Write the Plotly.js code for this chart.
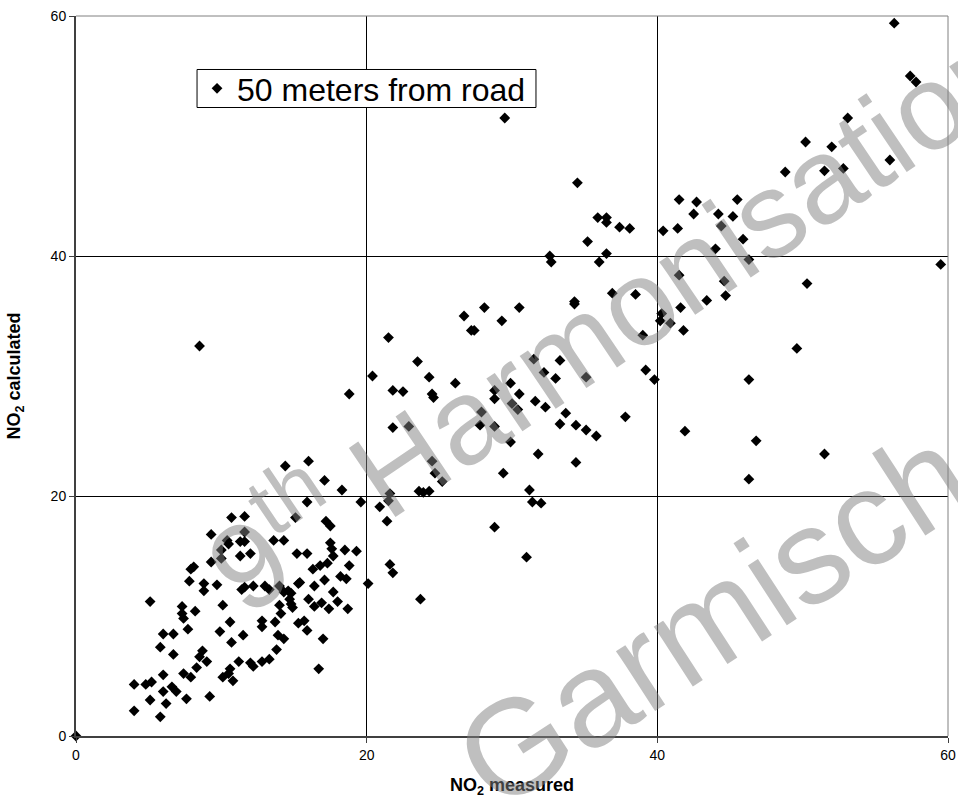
<!DOCTYPE html>
<html>
<head>
<meta charset="utf-8">
<script src="https://cdn.plot.ly/plotly-3.0.1.min.js"></script>
<style>
  html, body { margin: 0; padding: 0; background: #ffffff; }
  #chart { width: 958px; height: 798px; }
</style>
</head>
<body>
<div id="chart"></div>
<script>
// NO2 measured (x) and NO2 calculated (y), 50 meters from road
const no2Measured = [
  10.7, 11.6, 9.3, 11.6, 10.4, 11.3, 11.6, 10.0, 11.3, 12.0,
  10.0, 9.3, 8.1, 7.9, 7.8, 8.8, 9.7, 8.8, 11.4, 11.6,
  12.2, 5.1, 7.3, 8.2, 10.1, 7.3, 7.4, 7.7, 10.6, 9.9,
  6.0, 6.7, 11.5, 10.7, 5.8, 6.7, 8.7, 8.5, 9.0, 11.2,
  12.0, 12.2, 8.3, 10.6, 10.5, 6.0, 7.4, 7.9, 10.1, 10.8,
  4.0, 4.8, 5.2, 6.6, 6.9, 6.0, 5.1, 6.2, 7.6, 9.2,
  4.0, 5.8, 0.0, 10.5, 14.4, 16.0, 17.1, 18.3, 15.9, 19.6,
  15.1, 17.2, 17.5, 13.6, 14.3, 17.5, 17.6, 17.7, 15.2, 15.9,
  18.5, 19.3, 17.3, 16.8, 16.3, 18.8, 17.1, 18.2, 18.6, 20.1,
  13.0, 13.3, 14.0, 14.3, 14.6, 14.8, 15.3, 15.4, 16.4, 17.7,
  14.0, 14.1, 14.7, 14.8, 14.9, 16.0, 16.4, 16.9, 17.4, 18.0,
  18.7, 12.8, 12.8, 13.7, 15.3, 15.7, 15.9, 13.9, 14.3, 17.0,
  13.8, 13.3, 12.8, 16.7, 23.7, 8.5, 18.8, 20.4, 21.5, 21.8,
  22.5, 23.5, 24.3, 24.5, 24.6, 26.1, 26.7, 28.1, 30.5, 29.3,
  27.2, 27.4, 31.5, 32.2, 28.8, 28.8, 29.9, 30.5, 30.0, 30.4,
  31.6, 32.3, 27.9, 27.8, 28.8, 21.8, 22.9, 29.9, 31.8, 24.5,
  24.7, 25.2, 29.4, 20.9, 21.5, 21.6, 23.6, 23.9, 24.3, 31.2,
  31.4, 32.0, 21.4, 28.8, 31.0, 21.6, 21.8, 29.5, 34.5, 35.9,
  36.5, 36.5, 37.4, 38.1, 35.2, 32.6, 32.7, 36.5, 36.0, 36.9,
  38.5, 34.3, 34.3, 39.0, 33.3, 33.0, 35.1, 33.7, 33.3, 34.4,
  35.1, 35.8, 37.8, 34.4, 41.5, 42.7, 42.5, 44.2, 44.4, 45.2,
  45.5, 40.4, 41.4, 44.0, 45.9, 46.3, 41.5, 44.6, 44.7, 43.4,
  40.3, 40.2, 40.9, 41.6, 41.8, 39.2, 39.8, 46.3, 41.9, 56.3,
  57.4, 57.8, 53.1, 50.2, 52.0, 56.0, 48.8, 51.5, 52.8, 59.5,
  50.3, 49.6, 46.8, 51.5, 46.3
];
const no2Calculated = [
  18.2, 18.3, 16.8, 17.0, 16.3, 16.2, 16.2, 15.5, 15.0, 15.2,
  14.8, 14.5, 14.1, 13.9, 12.9, 12.7, 12.6, 12.1, 12.2, 12.4,
  12.5, 11.2, 10.8, 10.4, 10.9, 10.2, 9.8, 8.9, 9.5, 8.7,
  8.5, 8.5, 8.4, 7.8, 7.4, 6.8, 7.1, 6.6, 6.2, 6.2,
  6.1, 5.8, 5.7, 5.6, 5.2, 5.1, 5.2, 4.9, 4.9, 4.6,
  4.3, 4.3, 4.5, 4.1, 3.7, 3.7, 3.0, 2.7, 3.1, 3.3,
  2.1, 1.6, 0.0, 16.0, 22.5, 22.9, 21.3, 20.5, 19.5, 19.5,
  18.2, 17.9, 17.5, 16.3, 16.3, 16.1, 15.6, 15.0, 15.2, 15.2,
  15.5, 15.4, 14.4, 14.2, 13.9, 14.2, 13.0, 13.3, 13.1, 12.7,
  12.5, 12.2, 12.5, 12.0, 12.1, 11.9, 12.7, 12.8, 12.5, 12.0,
  10.9, 10.2, 11.4, 11.0, 10.7, 11.4, 10.8, 11.1, 10.6, 11.2,
  10.6, 9.6, 9.1, 9.5, 9.4, 9.6, 8.8, 8.4, 8.1, 8.1,
  7.2, 6.4, 6.2, 5.6, 11.4, 32.5, 28.5, 30.0, 33.2, 28.8,
  28.7, 31.2, 29.9, 28.5, 28.2, 29.4, 35.0, 35.7, 35.7, 34.6,
  33.8, 33.8, 31.4, 30.3, 28.8, 28.1, 29.4, 28.5, 27.7, 27.2,
  27.9, 27.4, 27.0, 25.9, 25.8, 25.7, 25.8, 24.5, 23.5, 22.9,
  21.9, 21.2, 21.9, 19.1, 19.6, 20.2, 20.4, 20.3, 20.4, 20.5,
  19.5, 19.4, 17.9, 17.4, 14.9, 14.3, 13.6, 51.5, 46.1, 43.2,
  43.2, 42.8, 42.4, 42.3, 41.2, 40.0, 39.5, 40.2, 39.5, 36.9,
  36.8, 36.2, 36.0, 33.4, 31.3, 29.8, 29.9, 26.9, 26.0, 25.9,
  25.5, 25.0, 26.6, 22.8, 44.7, 44.5, 43.5, 43.5, 42.5, 43.3,
  44.7, 42.1, 42.3, 40.6, 41.4, 39.7, 38.4, 37.9, 36.7, 36.3,
  35.2, 34.6, 34.4, 35.7, 33.8, 30.5, 29.7, 29.7, 25.4, 59.4,
  55.0, 54.5, 51.5, 49.5, 49.1, 48.0, 47.0, 47.1, 47.3, 39.3,
  37.7, 32.3, 24.6, 23.5, 21.4
];
const seriesName = '50 meters from road';
const tickValues = [0, 20, 40, 60];
const tickLabels = ['0', '20', '40', '60'];
const xTitle = 'NO<sub>2</sub> measured';
const yTitle = 'NO<sub>2</sub> calculated';
const watermark1 = '9<sup>th</sup> Harmonisation';
const watermark2 = 'Garmisch';

const FONT = 'Arial, "Liberation Sans", sans-serif';

const trace = {
  type: 'scatter',
  mode: 'markers',
  name: seriesName,
  x: no2Measured,
  y: no2Calculated,
  cliponaxis: false,
  marker: { symbol: 'diamond', size: 8.3, color: '#000000' },
  showlegend: true
};

const axisCommon = {
  range: [0, 60],
  tickvals: tickValues,
  ticktext: tickLabels,
  ticks: 'outside',
  ticklen: 5,
  tickwidth: 1,
  tickcolor: '#404040',
  tickfont: { family: FONT, size: 14, color: '#000000' },
  showgrid: true,
  gridcolor: '#000000',
  gridwidth: 1,
  zeroline: false,
  showline: true,
  linecolor: '#404040',
  linewidth: 2,
  mirror: false,
  fixedrange: true
};

const layout = {
  width: 958,
  height: 798,
  margin: { l: 76, r: 10, t: 16, b: 62, pad: 0 },
  paper_bgcolor: '#ffffff',
  plot_bgcolor: '#ffffff',
  font: { family: FONT, color: '#000000' },
  showlegend: true,
  xaxis: Object.assign({}, axisCommon, {
    title: { text: xTitle, font: { family: FONT, size: 18, color: '#000000', weight: 'bold' }, standoff: 17 }
  }),
  yaxis: Object.assign({}, axisCommon, {
    title: { text: yTitle, font: { family: FONT, size: 18, color: '#000000', weight: 'bold' }, standoff: 25 }
  }),
  legend: {
    x: 0.1388, y: 0.8993, xanchor: 'left', yanchor: 'middle',
    bgcolor: 'rgba(0,0,0,0)', borderwidth: 0,
    font: { family: FONT, size: 32, color: '#000000' }
  },
  shapes: [
    { type: 'line', xref: 'paper', yref: 'paper', x0: 0, x1: 1, y0: 1, y1: 1, line: { color: '#808080', width: 1 } },
    { type: 'line', xref: 'paper', yref: 'paper', x0: 1, x1: 1, y0: 0, y1: 1, line: { color: '#808080', width: 1 } },
    { type: 'rect', xref: 'paper', yref: 'paper', layer: 'above',
      x0: 0.1388, x1: 0.5275, y0: 0.8729, y1: 0.9257,
      fillcolor: '#ffffff', line: { color: '#000000', width: 1 } }
  ],
  annotations: [
    {
      text: watermark1, xref: 'paper', yref: 'paper', x: 0.614, y: 0.592,
      xanchor: 'center', yanchor: 'middle', showarrow: false, textangle: -34,
      font: { family: FONT, size: 121, color: 'rgba(128,128,128,0.5)' }
    },
    {
      text: watermark2, xref: 'paper', yref: 'paper', x: 0.731, y: 0.165,
      xanchor: 'center', yanchor: 'middle', showarrow: false, textangle: -33,
      font: { family: FONT, size: 135, color: 'rgba(128,128,128,0.5)' }
    }
  ]
};

Plotly.newPlot('chart', [trace], layout, { displayModeBar: false, staticPlot: true });
</script>
</body>
</html>
